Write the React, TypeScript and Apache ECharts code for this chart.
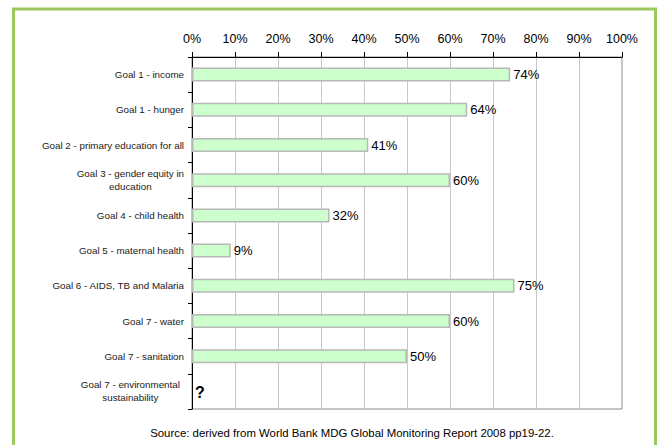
import React, { useEffect, useRef } from "react";
import * as echarts from "echarts";

const categories: string[] = [
  "Goal 1 - income",
  "Goal 1 - hunger",
  "Goal 2 - primary education for all",
  "Goal 3 - gender equity in\neducation",
  "Goal 4 - child health",
  "Goal 5 - maternal health",
  "Goal 6 - AIDS, TB and Malaria",
  "Goal 7 - water",
  "Goal 7 - sanitation",
  "Goal 7 - environmental\nsustainability",
];
const values: (number | null)[] = [74, 64, 41, 60, 32, 9, 75, 60, 50, null];
const unknownLabel = "?";
const xTicks = { min: 0, max: 100, interval: 10 };
const sourceText = "Source: derived from World Bank MDG Global Monitoring Report 2008 pp19-22.";

const FONT = "Liberation Sans";

function measure(text: string, size: number): number {
  const c = document.createElement("canvas").getContext("2d");
  if (!c) return text.length * size * 0.5;
  c.font = `${size}px "Liberation Sans"`;
  return c.measureText(text).width;
}

export default function App() {
  const ref = useRef<HTMLDivElement>(null);
  useEffect(() => {
    if (!ref.current) return;
    const chart = echarts.init(ref.current, undefined, { renderer: "svg" });
    const seriesData = values.map((v) =>
      v === null
        ? {
            value: 0,
            itemStyle: { color: "rgba(0,0,0,0)", borderColor: "rgba(0,0,0,0)", borderWidth: 0 },
            label: {
              show: true,
              formatter: unknownLabel,
              fontWeight: "bold" as const,
              fontSize: 16,
              offset: [0, 1],
            },
          }
        : { value: v }
    );
    chart.setOption({
      animation: false,
      backgroundColor: "#ffffff",
      textStyle: { fontFamily: FONT },
      grid: {
        left: 192,
        top: 57,
        right: 37,
        bottom: 36,
        show: true,
        borderColor: "#8a8a8a",
        borderWidth: 1,
        backgroundColor: "transparent",
      },
      xAxis: {
        type: "value",
        position: "top",
        min: xTicks.min,
        max: xTicks.max,
        interval: xTicks.interval,
        axisLine: { show: true, lineStyle: { color: "#000", width: 1 } },
        axisTick: { show: true, length: 5, lineStyle: { color: "#000" } },
        axisLabel: {
          formatter: "{value}%",
          color: "#000",
          fontSize: 12.5,
          fontFamily: FONT,
          margin: 12,
        },
        splitLine: { show: true, lineStyle: { color: "#c8c8c8", width: 1 } },
      },
      yAxis: {
        type: "category",
        inverse: true,
        data: categories,
        axisLine: { show: true, lineStyle: { color: "#000", width: 1 } },
        axisTick: { show: true, length: 4, lineStyle: { color: "#000" } },
        splitLine: { show: false },
        axisLabel: {
          color: "#1a1a1a",
          fontSize: 9.8,
          fontFamily: FONT,
          margin: 8,
          align: "right",
          formatter: (val: string) => {
            if (val.indexOf("\n") < 0) return val;
            const lines = val.split("\n");
            return lines.map((l) => `{c|${l}}`).join("\n");
          },
          rich: {
            c: {
              width: Math.max(
                ...categories
                  .filter((c) => c.indexOf("\n") >= 0)
                  .map((c) => measure(c.split("\n")[0], 9.8))
              ),
              align: "center",
              fontSize: 9.8,
              lineHeight: 13,
              color: "#1a1a1a",
              fontFamily: FONT,
            },
          },
        },
      },
      series: [
        {
          type: "bar",
          data: seriesData,
          barWidth: 14,
          itemStyle: {
            color: "#ccffcc",
            borderColor: "#b8b8b8",
            borderWidth: 1.5,
          },
          label: {
            show: true,
            position: "right",
            distance: 3,
            formatter: "{c}%",
            color: "#000",
            fontSize: 13,
            fontFamily: FONT,
          },
        },
      ],
      graphic: [
        {
          type: "rect",
          shape: { x: 13.5, y: 9, width: 642, height: 460 },
          style: { fill: "none", stroke: "#9bc85a", lineWidth: 3 },
          silent: true,
        },
        {
          type: "text",
          x: 352,
          y: 433,
          style: {
            text: sourceText,
            fill: "#000",
            fontSize: 11.4,
            fontFamily: FONT,
            textAlign: "center",
            textVerticalAlign: "middle",
          },
        },
      ],
    });
    return () => chart.dispose();
  }, []);
  return (
    <div
      ref={ref}
      style={{ position: "absolute", left: 0, top: 0, width: 659, height: 445 }}
    />
  );
}
